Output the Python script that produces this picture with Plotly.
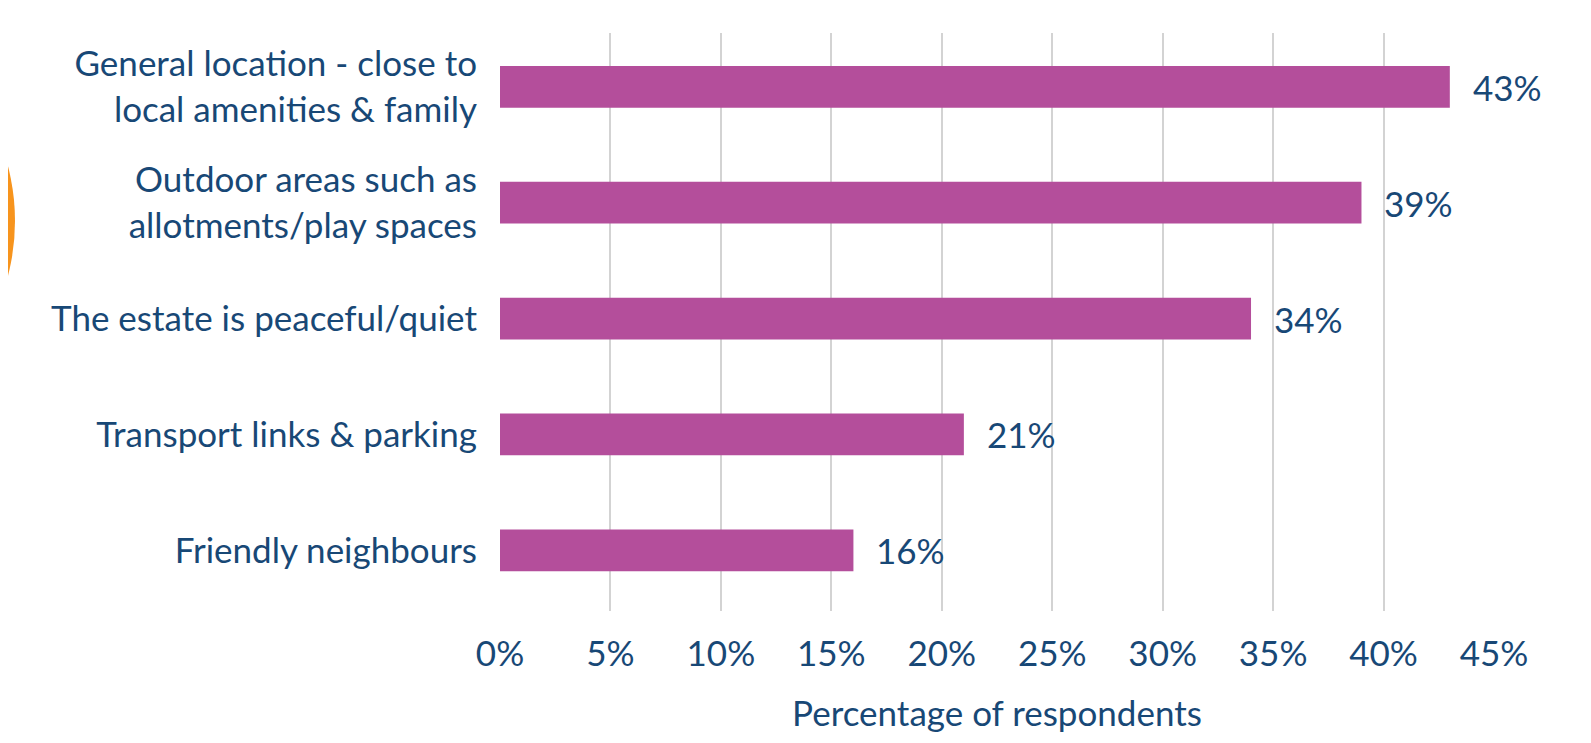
import plotly.graph_objects as go

categories = [
    "General location - close to<br>local amenities & family",
    "Outdoor areas such as<br>allotments/play spaces",
    "The estate is peaceful/quiet",
    "Transport links & parking",
    "Friendly neighbours",
]
values = [43, 39, 34, 21, 16]
x_ticks = [0, 5, 10, 15, 20, 25, 30, 35, 40, 45]
x_tick_labels = [f"{t}%" for t in x_ticks]
x_title = "Percentage of respondents"

FONT = "Lato"
FS = 35
TXT = "#184876"
BAR = "#b44e9b"
W, H = 1591, 743
L, R, T, B = 492, 1486, 25, 603

fig = go.Figure()
fig.add_trace(go.Bar(
    x=values, y=categories, orientation="h", width=0.36,
    marker=dict(color=BAR, line=dict(width=0)),
    hoverinfo="skip",
))

for v, c in zip(values, categories):
    fig.add_annotation(x=v, y=c, text=f"{v}%", xanchor="left", yanchor="middle",
                       xshift=21, showarrow=False,
                       font=dict(family=FONT, size=FS, color=TXT))

# orange decorative arc at left edge (pixel geometry -> paper coords)
pw, ph = R - L, B - T
def px(x):
    return (x - L) / pw
def py(y):
    return (B - y) / ph
cx, cy, r = -210, 213, 217
fig.add_shape(type="circle", xref="paper", yref="paper",
              x0=px(cx - r), x1=px(cx + r), y0=py(cy + r), y1=py(cy - r),
              fillcolor="#f7941d", line=dict(width=0), layer="below")

fig.update_layout(
    width=W, height=H,
    margin=dict(l=L, r=W - R, t=T, b=H - B, autoexpand=False),
    plot_bgcolor="white", paper_bgcolor="white",
    showlegend=False, bargap=0.64,
    font=dict(family=FONT, size=FS, color=TXT),
)
fig.update_xaxes(
    range=[0, 45], tickvals=x_ticks, ticktext=x_tick_labels,
    showgrid=True, gridcolor="#d3d3d3", gridwidth=2, zeroline=False,
    showline=False, ticks="", ticklabelstandoff=19,
    title=dict(text=x_title, standoff=29, font=dict(family=FONT, size=FS, color=TXT)),
    tickfont=dict(family=FONT, size=FS, color=TXT), fixedrange=True,
)
fig.update_yaxes(
    categoryorder="array", categoryarray=categories,
    range=[4.524, -0.464], showgrid=False, zeroline=False, showline=False,
    ticks="", ticklabelstandoff=22,
    tickfont=dict(family=FONT, size=FS, color=TXT), fixedrange=True,
)

fig.write_html("out.html")
